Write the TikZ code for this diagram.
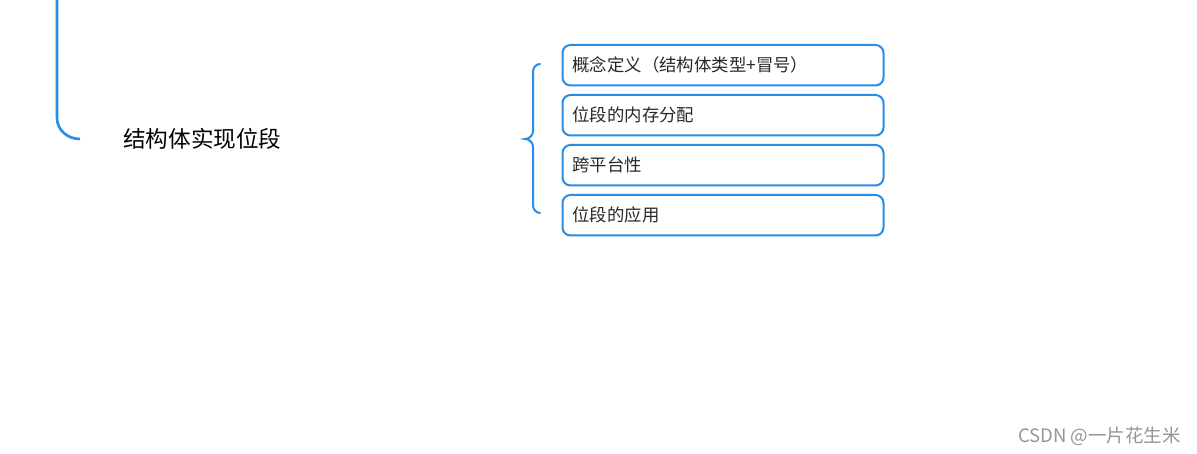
\documentclass[tikz,border=0pt]{standalone}
\usepackage{fontspec}
\setmainfont{Noto Sans CJK SC}
\newfontfamily\cjk{Noto Sans CJK SC}
\definecolor{mapblue}{RGB}{38,142,232}
\definecolor{txtdark}{RGB}{40,40,40}
\definecolor{wmgray}{RGB}{150,150,150}
\begin{document}
\begin{tikzpicture}[x=1pt,y=-1pt,
  leaf/.style={draw=mapblue,line width=2pt,rounded corners=8pt,minimum width=321pt,minimum height=40.5pt,anchor=north west,inner sep=0pt,font=\cjk\fontsize{17.4}{19}\selectfont,text=txtdark,align=left,text width=311pt},
  link/.style={mapblue,line width=2.6pt}]
\useasboundingbox (0,0) rectangle (1197,454);
\fill[white] (0,0) rectangle (1197,454);
% left trunk line
\coordinate (top) at (57,-2);
\coordinate (bend) at (80,139);
\draw[link] (top) -- (57,118) to[out=-90,in=180] (bend);
% root text
\node[anchor=west,inner sep=0pt,font=\cjk\fontsize{22.6}{25}\selectfont,text=black] (root) at (123,139) {结构体实现位段};
% boxes
\node[leaf] (b1) at (561.5,44) {\hspace*{5pt}概念定义（结构体类型+冒号）};
\node[leaf] (b2) at (561.5,94) {\hspace*{5pt}位段的内存分配};
\node[leaf] (b3) at (561.5,144) {\hspace*{5pt}跨平台性};
\node[leaf] (b4) at (561.5,194) {\hspace*{5pt}位段的应用};
% brace
\coordinate (bt) at (540,64);
\coordinate (bm) at (525,139);
\coordinate (bb) at (540,213);
\draw[mapblue,line width=2pt,line cap=round] (bt) to[out=180,in=90] (533,72) -- (533,131) to[out=-90,in=0] (bm) to[out=0,in=90] (533,147) -- (533,205) to[out=-90,in=180] (bb);
% watermark
\node[anchor=east,inner sep=0pt,font=\cjk\fontsize{18.5}{20}\selectfont,text=wmgray] (wm) at (1181,436) {CSDN @一片花生米};
\end{tikzpicture}
\end{document}
